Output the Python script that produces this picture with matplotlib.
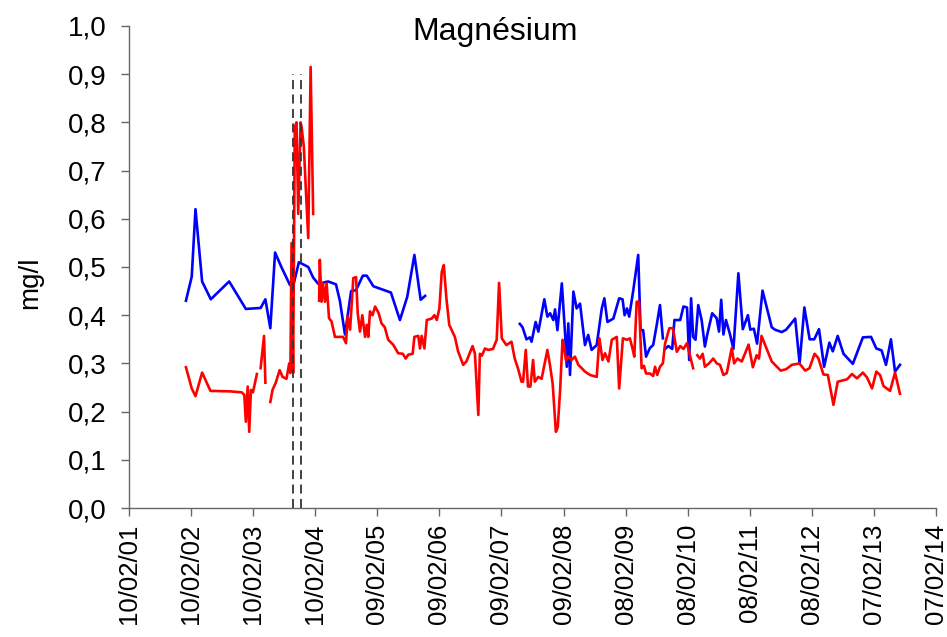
import numpy as np
import pandas as pd
import matplotlib as mpl
mpl.use('Agg')
import matplotlib.pyplot as plt
import matplotlib.dates as mdates

plt.rcParams['font.family'] = ['Liberation Sans', 'DejaVu Sans']

# blue series (None = gap in the record)
blue_dates = [
    '2002-01-11', '2002-02-14', '2002-03-08', '2002-04-16', '2002-06-06', '2002-09-22', '2002-12-29',
    '2003-03-26', '2003-04-23', '2003-05-22', '2003-06-19', '2003-07-26', '2003-09-14', '2003-10-03',
    '2003-11-06', '2003-12-31',
    '2004-01-29', '2004-02-28', '2004-04-26', '2004-06-11', '2004-07-04', '2004-08-03', '2004-09-08',
    '2004-10-07', '2004-11-16', '2004-12-09',
    '2005-01-17', '2005-04-14', '2005-04-30', '2005-06-22', '2005-08-04', '2005-09-15', '2005-10-22',
    '2005-11-17',
    '2006-08-01',
    '2007-05-28', '2007-06-13', '2007-07-06', '2007-07-26', '2007-08-05', '2007-08-29', '2007-09-14',
    '2007-10-19', '2007-11-06', '2007-11-22', '2007-12-11', '2007-12-21',
    '2008-01-04', '2008-01-30', '2008-02-18', '2008-02-28', '2008-03-08', '2008-03-18', '2008-04-07',
    '2008-04-26', '2008-05-16', '2008-06-14', '2008-07-03', '2008-07-23', '2008-08-22', '2008-09-21',
    '2008-10-06', '2008-10-24', '2008-11-28',
    '2009-01-01', '2009-01-21', '2009-02-02', '2009-02-16', '2009-03-01', '2009-03-24', '2009-04-23',
    '2009-05-07', '2009-05-22', '2009-06-08', '2009-07-01', '2009-07-20', '2009-08-10', '2009-08-29',
    '2009-09-15', '2009-09-21', '2009-09-28', '2009-10-17', '2009-11-09', '2009-11-22', '2009-12-26',
    '2010-01-14', '2010-02-04', '2010-02-17', '2010-02-28', '2010-03-12', '2010-03-26', '2010-04-11',
    '2010-05-01', '2010-05-20', '2010-06-03', '2010-07-02', '2010-07-28', '2010-08-11', '2010-08-24',
    '2010-09-06', '2010-09-21', '2010-10-15', '2010-11-04', '2010-12-03', '2010-12-29',
    '2011-01-28', '2011-02-11', '2011-03-04', '2011-03-23', '2011-04-24', '2011-06-17', '2011-07-06',
    '2011-08-15', '2011-09-10', '2011-11-02', '2011-11-28', '2011-12-26',
    '2012-01-26', '2012-02-22', '2012-03-21', '2012-04-20', '2012-05-21', '2012-06-10', '2012-07-09',
    '2012-08-12', '2012-10-06', '2012-12-04',
    '2013-01-21', '2013-02-21', '2013-03-24', '2013-04-19', '2013-05-18', '2013-06-11', '2013-07-10',
]
blue_mg = [
    0.43, 0.48, 0.62, 0.47, 0.433, 0.47, 0.413,
    0.415, 0.433, 0.373, 0.53, 0.50, 0.463, 0.46,
    0.51, 0.50,
    0.478, 0.465, 0.47, 0.464, 0.43, 0.36, 0.45,
    0.452, 0.482, 0.482,
    0.46, 0.449, 0.447, 0.39, 0.438, 0.525, 0.432,
    0.44,
    None,
    0.382, 0.375, 0.35, 0.354, 0.345, 0.386, 0.366,
    0.433, 0.397, 0.404, 0.39, 0.412,
    0.369, 0.466, 0.362, 0.293, 0.383, 0.276, 0.449,
    0.414, 0.424, 0.338, 0.359, 0.328, 0.338, 0.414,
    0.435, 0.386, 0.393,
    0.435, 0.433, 0.40, 0.414, 0.397, 0.449, 0.525,
    0.369, 0.369, 0.314, 0.332, 0.338, 0.38, 0.421,
    0.352, None, 0.33, 0.336, 0.33, 0.39, 0.39,
    0.418, 0.416, 0.307, 0.435, 0.355, 0.349, 0.421,
    0.39, 0.335, 0.36, 0.404, 0.394, 0.366, 0.432,
    0.36, 0.39, 0.36, 0.33, 0.487, 0.371,
    0.40, 0.37, 0.372, 0.341, 0.451, 0.375, 0.37,
    0.365, 0.37, 0.393, 0.30, 0.416,
    0.35, 0.35, 0.371, 0.293, 0.343, 0.325, 0.357,
    0.32, 0.299, 0.354,
    0.355, 0.331, 0.327, 0.297, 0.35, 0.283, 0.297,
]

# red series
red_dates = [
    '2002-01-11', '2002-02-14', '2002-03-08', '2002-04-16', '2002-06-04', '2002-09-26', '2002-12-04',
    '2002-12-20', '2002-12-29', '2003-01-09', '2003-01-18', '2003-01-28', '2003-02-09', '2003-03-04',
    '2003-03-15',
    '2003-03-26', '2003-04-15', '2003-04-23',
    '2003-05-08',
    '2003-05-22', '2003-06-04', '2003-06-23', '2003-07-16', '2003-08-02', '2003-08-25', '2003-09-10',
    '2003-09-17', '2003-09-24', '2003-10-03', '2003-10-13', '2003-10-23', '2003-11-02', '2003-11-16',
    '2003-11-22', '2003-12-05', '2003-12-17', '2003-12-31', '2004-01-14', '2004-01-29',
    '2004-02-15',
    '2004-03-04', '2004-03-08', '2004-03-18', '2004-03-27', '2004-04-07', '2004-04-17', '2004-05-01',
    '2004-05-16', '2004-06-05', '2004-06-24', '2004-07-23', '2004-08-09', '2004-08-19', '2004-09-02',
    '2004-09-21', '2004-10-07', '2004-10-17', '2004-10-30', '2004-11-13', '2004-11-29', '2004-12-09',
    '2004-12-18', '2004-12-28',
    '2005-01-12', '2005-01-27', '2005-02-16', '2005-03-06', '2005-03-25', '2005-04-14', '2005-05-13',
    '2005-06-12', '2005-07-09', '2005-07-26', '2005-08-10', '2005-09-05', '2005-09-15', '2005-10-08',
    '2005-10-18', '2005-10-28', '2005-11-13', '2005-11-27', '2005-12-26',
    '2006-01-11', '2006-01-25', '2006-02-09', '2006-02-23', '2006-03-07', '2006-03-22', '2006-04-08',
    '2006-05-11', '2006-05-30', '2006-06-29', '2006-07-18', '2006-08-23', '2006-09-06', '2006-09-26',
    '2006-10-05', '2006-10-17', '2006-11-04', '2006-11-23', '2006-12-21',
    '2007-01-12', '2007-01-26', '2007-02-11', '2007-03-10', '2007-04-09', '2007-04-28', '2007-05-17',
    '2007-06-07', '2007-06-16', '2007-07-02', '2007-07-15', '2007-07-29', '2007-08-14', '2007-08-24',
    '2007-09-13', '2007-10-03', '2007-11-06', '2007-11-21', '2007-12-07', '2007-12-26',
    '2008-01-06', '2008-01-20', '2008-02-03', '2008-02-13', '2008-02-23', '2008-03-08', '2008-03-27',
    '2008-04-16', '2008-05-06', '2008-05-26', '2008-06-14', '2008-07-14', '2008-08-22', '2008-09-07',
    '2008-09-25', '2008-10-10', '2008-10-30', '2008-11-19', '2008-12-18',
    '2009-01-01', '2009-01-23', '2009-02-16', '2009-03-05', '2009-03-21', '2009-03-31', '2009-04-14',
    '2009-04-28', '2009-05-13', '2009-05-27', '2009-06-08', '2009-07-01', '2009-07-20', '2009-07-31',
    '2009-08-13', '2009-08-29', '2009-09-15', '2009-09-28', '2009-10-23', '2009-11-13', '2009-12-06',
    '2009-12-26',
    '2010-01-14', '2010-02-04', '2010-02-23', '2010-03-12',
    '2010-03-24',
    '2010-04-05', '2010-04-21', '2010-05-07', '2010-05-20', '2010-06-13', '2010-07-08', '2010-07-29',
    '2010-08-17', '2010-09-06', '2010-09-26', '2010-10-25', '2010-11-08', '2010-11-27', '2010-12-23',
    '2011-02-01', '2011-02-26', '2011-03-20', '2011-04-03', '2011-04-18', '2011-06-17', '2011-07-12',
    '2011-08-09', '2011-09-10', '2011-10-13', '2011-11-27', '2011-12-31',
    '2012-01-25', '2012-02-24', '2012-03-17', '2012-04-16', '2012-05-12', '2012-06-14', '2012-07-09',
    '2012-09-02', '2012-10-01', '2012-10-30', '2012-12-04', '2012-12-28',
    '2013-01-27', '2013-02-21', '2013-03-15', '2013-04-04', '2013-05-13', '2013-06-11', '2013-07-10',
]
red_mg = [
    0.292, 0.248, 0.232, 0.281, 0.243, 0.242, 0.24,
    0.235, 0.179, 0.252, 0.158, 0.245, 0.24, 0.278,
    None,
    0.29, 0.357, 0.26,
    None,
    0.22, 0.245, 0.26, 0.286, 0.272, 0.268, 0.30,
    0.28, 0.55, 0.28, 0.79, 0.80, 0.61, 0.80,
    0.79, 0.75, 0.66, 0.56, 0.915, 0.61,
    None,
    0.43, 0.515, 0.428, 0.466, 0.428, 0.466, 0.394,
    0.387, 0.355, 0.355, 0.355, 0.342, 0.397, 0.37,
    0.477, 0.479, 0.404, 0.366, 0.40, 0.355, 0.38,
    0.355, 0.408,
    0.40, 0.418, 0.405, 0.383, 0.375, 0.349, 0.339,
    0.321, 0.32, 0.31, 0.318, 0.32, 0.355, 0.357,
    0.331, 0.357, 0.331, 0.39, 0.393,
    0.40, 0.39, 0.414, 0.49, 0.504, 0.436, 0.38,
    0.355, 0.325, 0.297, 0.304, 0.336, 0.32, 0.193,
    0.32, 0.316, 0.331, 0.328, 0.33,
    0.349, 0.467, 0.352, 0.338, 0.345, 0.31, 0.29,
    0.262, 0.262, 0.328, 0.252, 0.252, 0.307, 0.262,
    0.272, 0.268, 0.328, 0.297, 0.258, 0.158,
    0.168, 0.245, 0.349, 0.33, 0.307, 0.314, 0.307,
    0.314, 0.297, 0.29, 0.283, 0.276, 0.272, 0.352,
    0.307, 0.321, 0.304, 0.349, 0.355,
    0.248, 0.352, 0.349, 0.352, 0.33, 0.314, 0.428,
    0.428, 0.29, 0.295, 0.279, 0.279, 0.274, 0.293,
    0.276, 0.293, 0.30, 0.341, 0.373, 0.373, 0.324,
    0.336,
    0.33, 0.342, 0.314, 0.29,
    None,
    0.317, 0.31, 0.32, 0.293, 0.30, 0.31, 0.30,
    0.297, 0.276, 0.28, 0.332, 0.30, 0.31, 0.304,
    0.339, 0.292, 0.317, 0.31, 0.357, 0.304, 0.295,
    0.285, 0.288, 0.297, 0.30, 0.285,
    0.29, 0.32, 0.311, 0.277, 0.276, 0.214, 0.262,
    0.267, 0.278, 0.269, 0.281, 0.271,
    0.248, 0.283, 0.276, 0.253, 0.243, 0.281, 0.237,
]

# vertical dashed markers
event_dates = ['2003-10-01', '2003-11-18']
event_top = 0.9

tick_dates = pd.date_range('2001-02-10', periods=14, freq='365D')

fig = plt.figure(figsize=(9.47, 6.37), dpi=100)
ax = fig.add_axes([0.1362, 0.2025, 0.8522, 0.7567])

bx = pd.to_datetime(blue_dates)
by = np.array([np.nan if v is None else v for v in blue_mg])
rx = pd.to_datetime(red_dates)
ry = np.array([np.nan if v is None else v for v in red_mg])

ax.plot(bx, by, color='#0000ff', lw=1.9)
ax.plot(rx, ry, color='#ff0000', lw=1.9)
for d in event_dates:
    ax.plot([pd.Timestamp(d)] * 2, [0, event_top], color='#333333', lw=1.3, ls=(0, (5, 3)))

ax.set_xlim(tick_dates[0], tick_dates[-1])
ax.set_ylim(0, 1.0)
ax.set_xticks(tick_dates)
ax.xaxis.set_major_formatter(mdates.DateFormatter('%d/%m/%y'))
ax.set_yticks(np.arange(0, 1.01, 0.1))
ax.set_yticklabels([('%.1f' % v).replace('.', ',') for v in np.arange(0, 1.01, 0.1)])

for s in ['top', 'right']:
    ax.spines[s].set_visible(False)
for s in ['left', 'bottom']:
    ax.spines[s].set_color('#666666')
    ax.spines[s].set_linewidth(1.0)
ax.tick_params(axis='both', color='#666666', length=6, width=1.0)
ax.tick_params(axis='y', pad=10, labelsize=20)
ax.tick_params(axis='x', pad=5, labelrotation=90, labelsize=18.5)

fig.text(495 / 947, 1 - 32 / 637, 'Magnésium', fontsize=23, ha='center', va='center')
fig.text(30 / 947, 1 - 283 / 637, 'mg/l', fontsize=20, rotation=90, ha='center', va='center')

fig.savefig('out.png', dpi=100)
